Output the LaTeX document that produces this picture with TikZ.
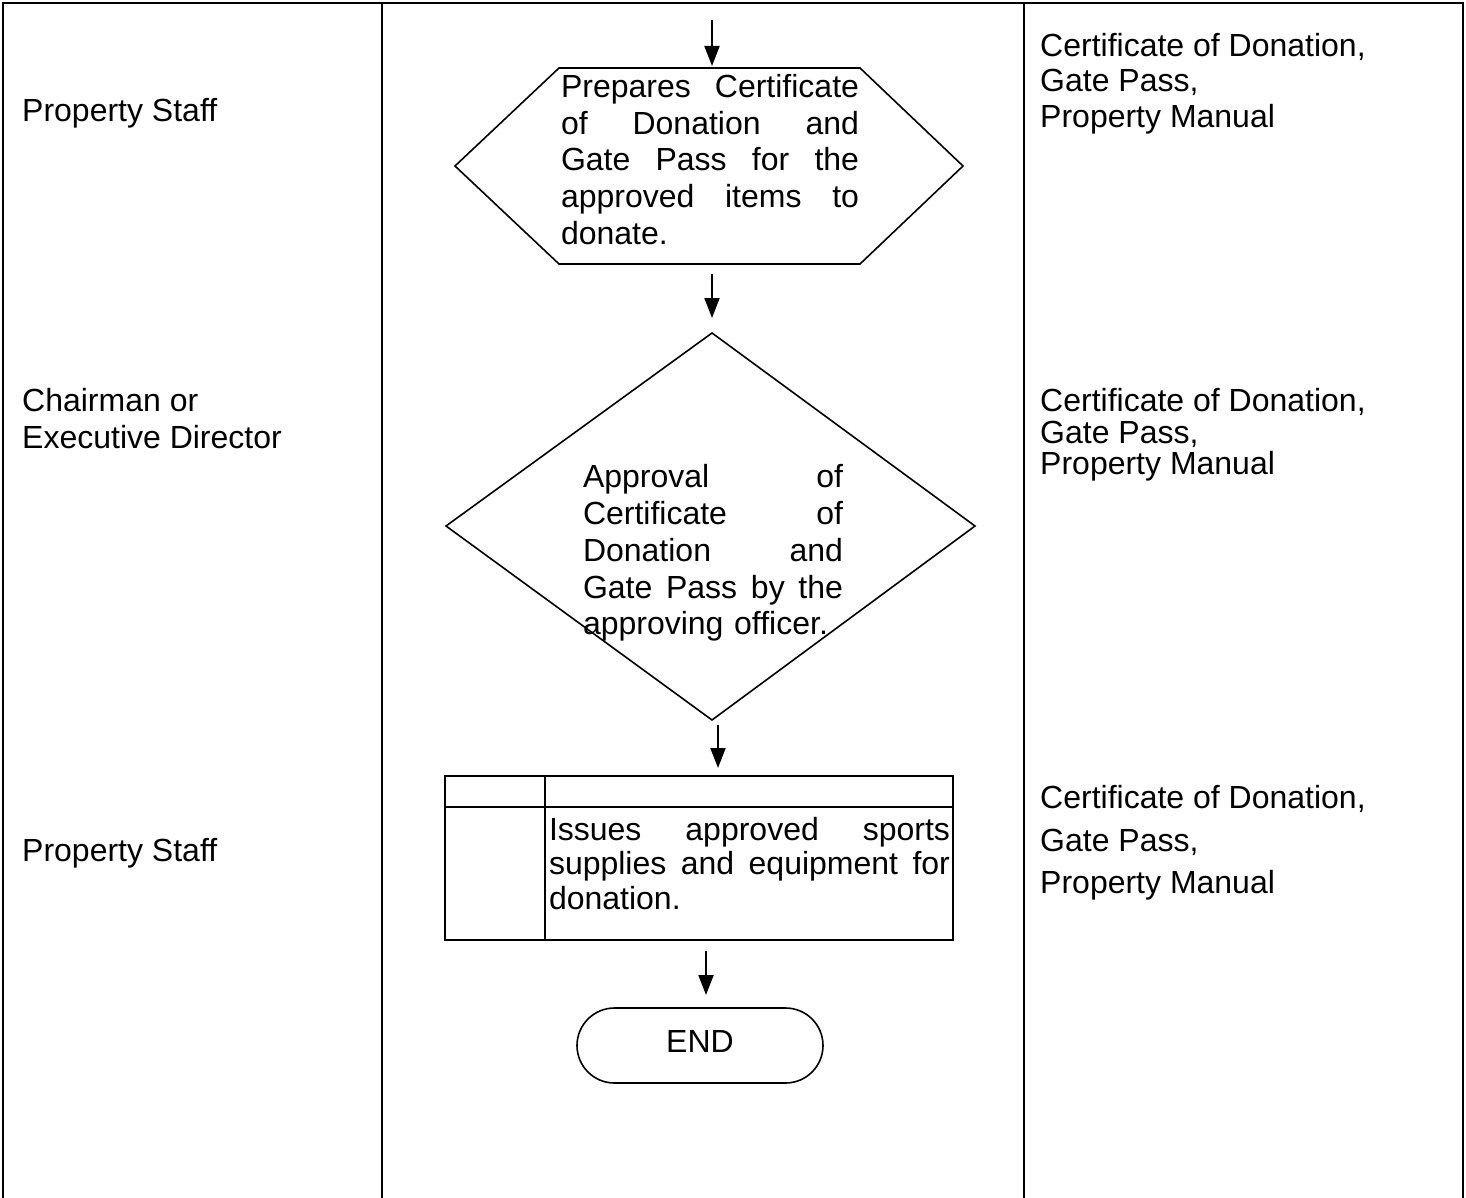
\documentclass[tikz,border=0pt]{standalone}
\usepackage{fontspec}
\setmainfont{Liberation Sans}
\usetikzlibrary{arrows.meta,shapes.misc}
\newcommand\jl[2]{\leavevmode\hbox to #1{#2}}
\begin{document}
\begin{tikzpicture}[x=1pt,y=-1pt,
  frame/.style={line width=2.5pt},
  shapeline/.style={line width=1.6pt, line join=miter},
  flow/.style={line width=2pt, -{Triangle[length=20pt,width=15pt]}},
  lbl/.style={anchor=base west, inner sep=0pt, font=\fontsize{32}{36.8}\selectfont},
  body/.style={inner sep=0pt, align=left, font=\fontsize{32}{36.8}\selectfont},
]
\useasboundingbox (0,0) rectangle (1466,1198);
% frame
\draw[frame] (3,1198) -- (3,3) -- (1463,3) -- (1463,1198);
\draw[frame] (382,3) -- (382,1198);
\draw[frame] (1024,3) -- (1024,1198);

% left labels
\node[lbl] (who1) at (22,122) {Property Staff};
\node[lbl] (who2a) at (22,411) {Chairman or};
\node[lbl] (who2b) at (22,448) {Executive Director};
\node[lbl] (who3) at (22,861) {Property Staff};

% right labels
\node[lbl] (doc1a) at (1040,57) {Certificate of Donation,};
\node[lbl] (doc1b) at (1040,92) {Gate Pass,};
\node[lbl] (doc1c) at (1040,128) {Property Manual};
\node[lbl] (doc2a) at (1040,411) {Certificate of Donation,};
\node[lbl] (doc2b) at (1040,443) {Gate Pass,};
\node[lbl] (doc2c) at (1040,474) {Property Manual};
\node[lbl] (doc3a) at (1040,808.5) {Certificate of Donation,};
\node[lbl] (doc3b) at (1040,851) {Gate Pass,};
\node[lbl] (doc3c) at (1040,893) {Property Manual};

% hexagon
\draw[shapeline] (455,166) -- (559,68) -- (860,68) -- (963,166) -- (860,264) -- (559,264) -- cycle;
\node[body, text width=298pt] (hextext) at (710,159.5) {%
\jl{298pt}{Prepares\hfill Certificate}\\
\jl{298pt}{of\hfill Donation\hfill and}\\
\jl{298pt}{Gate\hfill Pass\hfill for\hfill the}\\
\jl{298pt}{approved\hfill items\hfill to}\\
donate.};

% diamond
\draw[shapeline] (712,333) -- (975,526) -- (712,720) -- (446,526) -- cycle;
\node[body, text width=260pt] (diatext) at (713,553) {%
\jl{260pt}{Approval\hfill of}\\
\jl{260pt}{Certificate\hfill of}\\
\jl{260pt}{Donation\hfill and}\\
\jl{260pt}{Gate\hfill Pass\hfill by\hfill the}\\
approving officer.};

% process box
\draw[shapeline] (445,776) rectangle (953,940);
\draw[shapeline] (445,807) -- (953,807);
\draw[shapeline] (545,776) -- (545,940);
\node[body, text width=401pt, font=\fontsize{32}{34.5}\selectfont] (proctext) at (749.5,863.5) {%
\jl{401pt}{Issues\hfill approved\hfill sports}\\
\jl{401pt}{supplies\hfill and\hfill equipment\hfill for}\\
donation.};

% terminal
\node[draw, shapeline, rounded rectangle, minimum width=246pt, minimum height=75pt,
      inner sep=0pt, text height=23pt, text depth=10pt,
      font=\fontsize{32}{36.8}\selectfont] (endnode) at (700,1045.5) {END};

% arrows
\coordinate (a1s) at (712,20);  \coordinate (a1e) at (712,66);
\coordinate (a2s) at (712,274); \coordinate (a2e) at (712,318);
\coordinate (a3s) at (718,725); \coordinate (a3e) at (718,768);
\coordinate (a4s) at (706,951); \coordinate (a4e) at (706,995);
\draw[flow] (a1s) -- (a1e);
\draw[flow] (a2s) -- (a2e);
\draw[flow] (a3s) -- (a3e);
\draw[flow] (a4s) -- (a4e);
\end{tikzpicture}
\end{document}
